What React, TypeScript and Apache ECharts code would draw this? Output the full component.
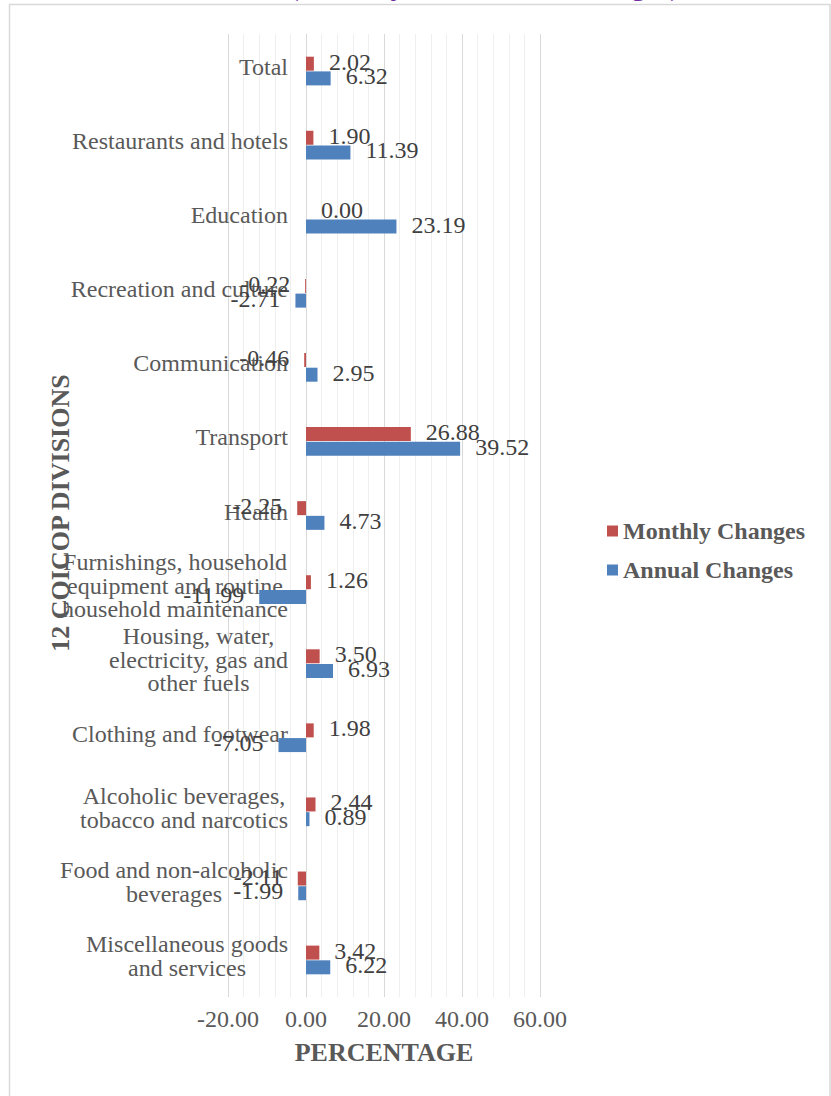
import React, { useEffect, useRef } from 'react';
import * as echarts from 'echarts';

const categories = [
  'Total',
  'Restaurants and hotels',
  'Education',
  'Recreation and culture',
  'Communication',
  'Transport',
  'Health',
  'Furnishings, household\nequipment and routine\nhousehold maintenance',
  'Housing, water,\nelectricity, gas and\nother fuels',
  'Clothing and footwear',
  'Alcoholic beverages,\ntobacco and narcotics',
  'Food and non-alcoholic\nbeverages',
  'Miscellaneous goods\nand services',
];
const monthlyChanges = [2.02, 1.9, 0.0, -0.22, -0.46, 26.88, -2.25, 1.26, 3.5, 1.98, 2.44, -2.11, 3.42];
const annualChanges = [6.32, 11.39, 23.19, -2.71, 2.95, 39.52, 4.73, -11.99, 6.93, -7.05, 0.89, -1.99, 6.22];
const seriesNames = ['Monthly Changes', 'Annual Changes'];
const xMin = -20;
const xMax = 60;
const xInterval = 20;

const FONT = "'Liberation Serif', 'Times New Roman', serif";
const GREY = '#595959';

export default function App() {
  const ref = useRef<HTMLDivElement>(null);
  useEffect(() => {
    if (!ref.current) return;
    const chart = echarts.init(ref.current, undefined, { renderer: 'svg' });
    const makeData = (arr: number[]) =>
      arr.map((v) => ({ value: v, label: { position: v < 0 ? 'left' : 'right' } }));
    const labelCfg = {
      show: true,
      distance: 15,
      offset: [0, -2],
      formatter: (p: any) => Number(p.value).toFixed(2),
      fontFamily: FONT,
      fontSize: 24,
      color: '#404040',
    };
    chart.setOption({
      animation: false,
      textStyle: { fontFamily: FONT },
      grid: {
        left: 228,
        right: 291,
        top: 34,
        bottom: 99,
        containLabel: false,
        outerBoundsMode: 'none',
      },
      legend: {
        orient: 'vertical',
        left: 602,
        top: 514,
        itemWidth: 11,
        itemHeight: 11,
        itemGap: 15,
        icon: 'rect',
        data: seriesNames,
        textStyle: { fontFamily: FONT, fontSize: 24, fontWeight: 'bold', color: GREY },
      },
      xAxis: {
        type: 'value',
        min: xMin,
        max: xMax,
        interval: xInterval,
        axisLine: { show: false },
        axisTick: { show: false },
        axisLabel: {
          margin: 10,
          formatter: (v: number) => v.toFixed(2),
          fontFamily: FONT,
          fontSize: 24,
          color: GREY,
        },
        splitLine: { show: true, lineStyle: { color: '#d9d9d9', width: 1 } },
        minorTick: { show: false, splitNumber: 5 },
        minorSplitLine: { show: true, lineStyle: { color: '#efefef', width: 1 } },
        name: 'PERCENTAGE',
        nameLocation: 'middle',
        nameGap: 42,
        nameTextStyle: { fontFamily: FONT, fontSize: 26, fontWeight: 'bold', color: GREY },
      },
      yAxis: {
        type: 'category',
        inverse: true,
        data: categories,
        axisTick: { show: false },
        axisLine: { show: true, onZero: true, lineStyle: { color: '#d9d9d9' } },
        axisLabel: {
          margin: -60,
          padding: [0, 0, 8, 0],
          formatter: (v: string) =>
            v
              .split('\n')
              .map((l) => `{a|${l}}`)
              .join('\n'),
          rich: {
            a: {
              fontFamily: FONT,
              fontSize: 24,
              color: GREY,
              lineHeight: 23.5,
              align: 'center',
            },
          },
        },
      },
      series: [
        {
          name: seriesNames[0],
          type: 'bar',
          barWidth: 14,
          barGap: '5%',
          itemStyle: { color: '#C0504D' },
          label: labelCfg,
          data: makeData(monthlyChanges),
        },
        {
          name: seriesNames[1],
          type: 'bar',
          barWidth: 14,
          barGap: '5%',
          itemStyle: { color: '#4F81BD' },
          label: labelCfg,
          data: makeData(annualChanges),
        },
      ],
      graphic: [
        {
          type: 'rect',
          shape: { x: 9.5, y: 4.5, width: 820.5, height: 1100 },
          style: { fill: 'none', stroke: '#d9d9d9', lineWidth: 1.5 },
          silent: true,
        },
        {
          type: 'text',
          x: 289,
          y: -15,
          style: {
            text: '(Monthly and Annual Changes)',
            font: `bold 29px ${FONT}`,
            fill: '#7030A0',
            textAlign: 'left',
            textVerticalAlign: 'middle',
          },
          silent: true,
        },
        {
          type: 'text',
          x: 60,
          y: 513,
          rotation: Math.PI / 2,
          style: {
            text: '12 COICOP DIVISIONS',
            font: `bold 26px ${FONT}`,
            fill: GREY,
            textAlign: 'center',
            textVerticalAlign: 'middle',
          },
          silent: true,
        },
      ],
    });
    return () => chart.dispose();
  }, []);
  return (
    <div
      ref={ref}
      style={{ position: 'fixed', left: 0, top: 0, width: 831, height: 1096, background: '#fff' }}
    />
  );
}
